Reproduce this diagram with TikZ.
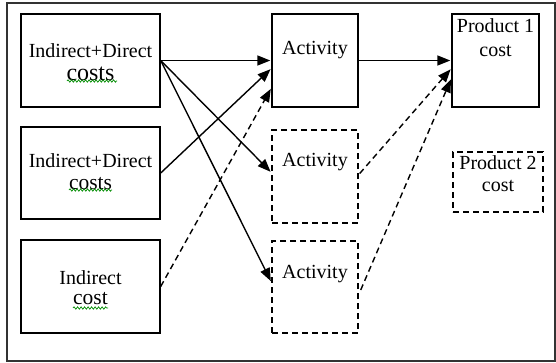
\documentclass[tikz,border=0pt]{standalone}
\usepackage{fontspec}
\setmainfont{Liberation Serif}
\usetikzlibrary{arrows.meta,decorations.pathmorphing,calc}
\begin{document}
\begin{tikzpicture}[x=1pt,y=-1pt,
  box/.style={draw=black, line width=1.4pt, inner sep=0pt, minimum width=#1},
  box/.default=139pt,
  dbox/.style={box=#1, dash pattern=on 6pt off 4pt},
  dbox/.default=86pt,
  arr/.style={line width=1.4pt, shorten >=1pt, -{Triangle[length=13pt,width=10pt]}},
  darr/.style={arr, dash pattern=on 6pt off 4pt},
  txt/.style={font=\fontsize{20}{24}\selectfont, align=center, inner sep=0pt},
  wavy/.style={draw=green!55!black, line width=0.7pt, decorate, decoration={snake, amplitude=1.2pt, segment length=3.5pt}}
]
\useasboundingbox (0,0) rectangle (556,362);
\node[draw=black!80, line width=1.5pt, minimum width=548pt, minimum height=358pt, inner sep=0pt] (frame) at (281,182) {};

% source boxes
\node[box, minimum height=93pt] (a1) at (90.5,60.5) {};
\node[box, minimum height=92pt] (a2) at (90.5,173) {};
\node[box, minimum height=93pt] (a3) at (90.5,286.5) {};
% activities
\node[box=86pt, minimum height=93pt] (act1) at (315,60.5) {};
\node[dbox, minimum height=93pt] (act2) at (315,176.5) {};
\node[dbox, minimum height=92pt] (act3) at (315,287) {};
% products
\node[box=87pt, minimum height=93pt] (p1) at (495.5,60.5) {};
\node[dbox=90pt, minimum height=60pt] (p2) at (498,182) {};

% texts
\node[txt] (t1) at (90.5,62) {Indirect+Direct\\[-1pt]{\fontsize{24}{24}\selectfont costs}};
\node[txt] (t2) at (90.5,172) {Indirect+Direct\\[-2pt]{\fontsize{21.5}{24}\selectfont costs}};
\node[txt, font=\fontsize{20}{20}\selectfont] (t3) at (90.5,288) {Indirect\\{\fontsize{21.5}{20}\selectfont cost}};
\node[txt] (t4) at (315,50) {Activity};
\node[txt] (t5) at (315,162) {Activity};
\node[txt] (t6) at (315,274) {Activity};
\node[txt] (t7) at (495.5,38) {Product 1\\cost};
\node[txt, font=\fontsize{20}{22}\selectfont] (t8) at (498,174) {Product 2\\cost};

% spell-check underlines
\draw[wavy] (67,81) -- (117,81);
\draw[wavy] (69,190) -- (112,190);
\draw[wavy] (73,308) -- (108,308);

% connectors
\draw[arr] (a1.east) -- (act1.west);
\draw[arr] (a1.east) -- ($(act2.west)+(0,-4)$);
\draw[arr] (a1.east) -- ($(act3.west)+(0,-5)$);
\draw[arr] (a2.east) -- ($(act1.west)+(0,8)$);
\draw[darr] (a3.east) -- ($(act1.west)+(0,27.5)$);
\draw[arr] (act1.east) -- (p1.west);
\draw[darr] ($(act2.east)+(1,-3)$) -- ($(p1.west)+(0,8)$);
\draw[darr] ($(act3.east)+(2,3)$) -- ($(p1.west)+(0,18)$);
\end{tikzpicture}
\end{document}
